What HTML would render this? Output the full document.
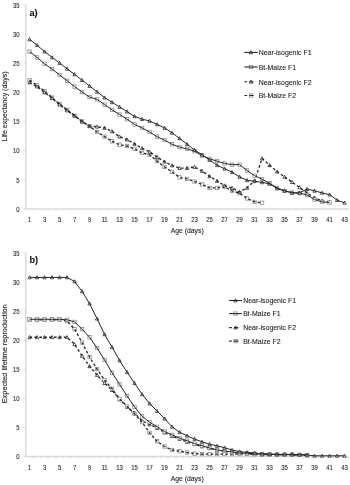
<!DOCTYPE html>
<html><head><meta charset="utf-8"><style>
html,body{margin:0;padding:0;background:#fff;width:350px;height:485px;overflow:hidden}
svg{display:block;will-change:transform}
text{font-family:"Liberation Sans",sans-serif;fill:#2a2a2a;stroke:#2a2a2a;stroke-width:0.1px}
.tk{font-size:6.9px}
.ax{font-size:7.5px;stroke-width:0.14px}
.lg{font-size:7.4px;fill:#1a1a1a}
.tag{font-size:9.2px;font-weight:bold;fill:#111}
</style></head><body>
<svg width="350" height="485" viewBox="0 0 350 485">
<rect width="350" height="485" fill="#fff"/>
<line x1="25.8" y1="5.0" x2="25.8" y2="208.9" stroke="#dadada" stroke-width="1.5"/><line x1="25.8" y1="208.9" x2="348.3" y2="208.9" stroke="#dadada" stroke-width="1.5"/><line x1="23.3" y1="208.90" x2="25.8" y2="208.90" stroke="#dadada" stroke-width="0.9"/><text transform="translate(19.6 211.70) scale(0.86 1)" text-anchor="end" class="tk">0</text><line x1="23.3" y1="179.77" x2="25.8" y2="179.77" stroke="#dadada" stroke-width="0.9"/><text transform="translate(19.6 182.57) scale(0.86 1)" text-anchor="end" class="tk">5</text><line x1="23.3" y1="150.64" x2="25.8" y2="150.64" stroke="#dadada" stroke-width="0.9"/><text transform="translate(19.6 153.44) scale(0.86 1)" text-anchor="end" class="tk">10</text><line x1="23.3" y1="121.51" x2="25.8" y2="121.51" stroke="#dadada" stroke-width="0.9"/><text transform="translate(19.6 124.31) scale(0.86 1)" text-anchor="end" class="tk">15</text><line x1="23.3" y1="92.39" x2="25.8" y2="92.39" stroke="#dadada" stroke-width="0.9"/><text transform="translate(19.6 95.19) scale(0.86 1)" text-anchor="end" class="tk">20</text><line x1="23.3" y1="63.26" x2="25.8" y2="63.26" stroke="#dadada" stroke-width="0.9"/><text transform="translate(19.6 66.06) scale(0.86 1)" text-anchor="end" class="tk">25</text><line x1="23.3" y1="34.13" x2="25.8" y2="34.13" stroke="#dadada" stroke-width="0.9"/><text transform="translate(19.6 36.93) scale(0.86 1)" text-anchor="end" class="tk">30</text><line x1="23.3" y1="5.00" x2="25.8" y2="5.00" stroke="#dadada" stroke-width="0.9"/><text transform="translate(19.6 7.80) scale(0.86 1)" text-anchor="end" class="tk">35</text><line x1="33.30" y1="208.9" x2="33.30" y2="211.1" stroke="#dadada" stroke-width="0.8"/><line x1="40.80" y1="208.9" x2="40.80" y2="211.1" stroke="#dadada" stroke-width="0.8"/><line x1="48.30" y1="208.9" x2="48.30" y2="211.1" stroke="#dadada" stroke-width="0.8"/><line x1="55.80" y1="208.9" x2="55.80" y2="211.1" stroke="#dadada" stroke-width="0.8"/><line x1="63.30" y1="208.9" x2="63.30" y2="211.1" stroke="#dadada" stroke-width="0.8"/><line x1="70.80" y1="208.9" x2="70.80" y2="211.1" stroke="#dadada" stroke-width="0.8"/><line x1="78.30" y1="208.9" x2="78.30" y2="211.1" stroke="#dadada" stroke-width="0.8"/><line x1="85.80" y1="208.9" x2="85.80" y2="211.1" stroke="#dadada" stroke-width="0.8"/><line x1="93.30" y1="208.9" x2="93.30" y2="211.1" stroke="#dadada" stroke-width="0.8"/><line x1="100.80" y1="208.9" x2="100.80" y2="211.1" stroke="#dadada" stroke-width="0.8"/><line x1="108.30" y1="208.9" x2="108.30" y2="211.1" stroke="#dadada" stroke-width="0.8"/><line x1="115.80" y1="208.9" x2="115.80" y2="211.1" stroke="#dadada" stroke-width="0.8"/><line x1="123.30" y1="208.9" x2="123.30" y2="211.1" stroke="#dadada" stroke-width="0.8"/><line x1="130.80" y1="208.9" x2="130.80" y2="211.1" stroke="#dadada" stroke-width="0.8"/><line x1="138.30" y1="208.9" x2="138.30" y2="211.1" stroke="#dadada" stroke-width="0.8"/><line x1="145.80" y1="208.9" x2="145.80" y2="211.1" stroke="#dadada" stroke-width="0.8"/><line x1="153.30" y1="208.9" x2="153.30" y2="211.1" stroke="#dadada" stroke-width="0.8"/><line x1="160.80" y1="208.9" x2="160.80" y2="211.1" stroke="#dadada" stroke-width="0.8"/><line x1="168.30" y1="208.9" x2="168.30" y2="211.1" stroke="#dadada" stroke-width="0.8"/><line x1="175.80" y1="208.9" x2="175.80" y2="211.1" stroke="#dadada" stroke-width="0.8"/><line x1="183.30" y1="208.9" x2="183.30" y2="211.1" stroke="#dadada" stroke-width="0.8"/><line x1="190.80" y1="208.9" x2="190.80" y2="211.1" stroke="#dadada" stroke-width="0.8"/><line x1="198.30" y1="208.9" x2="198.30" y2="211.1" stroke="#dadada" stroke-width="0.8"/><line x1="205.80" y1="208.9" x2="205.80" y2="211.1" stroke="#dadada" stroke-width="0.8"/><line x1="213.30" y1="208.9" x2="213.30" y2="211.1" stroke="#dadada" stroke-width="0.8"/><line x1="220.80" y1="208.9" x2="220.80" y2="211.1" stroke="#dadada" stroke-width="0.8"/><line x1="228.30" y1="208.9" x2="228.30" y2="211.1" stroke="#dadada" stroke-width="0.8"/><line x1="235.80" y1="208.9" x2="235.80" y2="211.1" stroke="#dadada" stroke-width="0.8"/><line x1="243.30" y1="208.9" x2="243.30" y2="211.1" stroke="#dadada" stroke-width="0.8"/><line x1="250.80" y1="208.9" x2="250.80" y2="211.1" stroke="#dadada" stroke-width="0.8"/><line x1="258.30" y1="208.9" x2="258.30" y2="211.1" stroke="#dadada" stroke-width="0.8"/><line x1="265.80" y1="208.9" x2="265.80" y2="211.1" stroke="#dadada" stroke-width="0.8"/><line x1="273.30" y1="208.9" x2="273.30" y2="211.1" stroke="#dadada" stroke-width="0.8"/><line x1="280.80" y1="208.9" x2="280.80" y2="211.1" stroke="#dadada" stroke-width="0.8"/><line x1="288.30" y1="208.9" x2="288.30" y2="211.1" stroke="#dadada" stroke-width="0.8"/><line x1="295.80" y1="208.9" x2="295.80" y2="211.1" stroke="#dadada" stroke-width="0.8"/><line x1="303.30" y1="208.9" x2="303.30" y2="211.1" stroke="#dadada" stroke-width="0.8"/><line x1="310.80" y1="208.9" x2="310.80" y2="211.1" stroke="#dadada" stroke-width="0.8"/><line x1="318.30" y1="208.9" x2="318.30" y2="211.1" stroke="#dadada" stroke-width="0.8"/><line x1="325.80" y1="208.9" x2="325.80" y2="211.1" stroke="#dadada" stroke-width="0.8"/><line x1="333.30" y1="208.9" x2="333.30" y2="211.1" stroke="#dadada" stroke-width="0.8"/><line x1="340.80" y1="208.9" x2="340.80" y2="211.1" stroke="#dadada" stroke-width="0.8"/><line x1="348.30" y1="208.9" x2="348.30" y2="211.1" stroke="#dadada" stroke-width="0.8"/><text transform="translate(29.55 222.30) scale(0.86 1)" text-anchor="middle" class="tk">1</text><text transform="translate(44.55 222.30) scale(0.86 1)" text-anchor="middle" class="tk">3</text><text transform="translate(59.55 222.30) scale(0.86 1)" text-anchor="middle" class="tk">5</text><text transform="translate(74.55 222.30) scale(0.86 1)" text-anchor="middle" class="tk">7</text><text transform="translate(89.55 222.30) scale(0.86 1)" text-anchor="middle" class="tk">9</text><text transform="translate(104.55 222.30) scale(0.86 1)" text-anchor="middle" class="tk">11</text><text transform="translate(119.55 222.30) scale(0.86 1)" text-anchor="middle" class="tk">13</text><text transform="translate(134.55 222.30) scale(0.86 1)" text-anchor="middle" class="tk">15</text><text transform="translate(149.55 222.30) scale(0.86 1)" text-anchor="middle" class="tk">17</text><text transform="translate(164.55 222.30) scale(0.86 1)" text-anchor="middle" class="tk">19</text><text transform="translate(179.55 222.30) scale(0.86 1)" text-anchor="middle" class="tk">21</text><text transform="translate(194.55 222.30) scale(0.86 1)" text-anchor="middle" class="tk">23</text><text transform="translate(209.55 222.30) scale(0.86 1)" text-anchor="middle" class="tk">25</text><text transform="translate(224.55 222.30) scale(0.86 1)" text-anchor="middle" class="tk">27</text><text transform="translate(239.55 222.30) scale(0.86 1)" text-anchor="middle" class="tk">29</text><text transform="translate(254.55 222.30) scale(0.86 1)" text-anchor="middle" class="tk">31</text><text transform="translate(269.55 222.30) scale(0.86 1)" text-anchor="middle" class="tk">33</text><text transform="translate(284.55 222.30) scale(0.86 1)" text-anchor="middle" class="tk">35</text><text transform="translate(299.55 222.30) scale(0.86 1)" text-anchor="middle" class="tk">37</text><text transform="translate(314.55 222.30) scale(0.86 1)" text-anchor="middle" class="tk">39</text><text transform="translate(329.55 222.30) scale(0.86 1)" text-anchor="middle" class="tk">41</text><text transform="translate(344.55 222.30) scale(0.86 1)" text-anchor="middle" class="tk">43</text><text x="187.2" y="233.00" text-anchor="middle" class="ax" textLength="33" lengthAdjust="spacingAndGlyphs">Age (days)</text><text transform="translate(6.7 106.45) rotate(-90)" text-anchor="middle" class="ax" textLength="70" lengthAdjust="spacingAndGlyphs">Life expectancy (days)</text><text x="29.4" y="16.20" class="tag">a)</text><g fill="#fff" stroke="#888" stroke-width="0.75"><rect x="27.85" y="78.45" width="3.40" height="3.40"/><rect x="35.35" y="83.69" width="3.40" height="3.40"/><rect x="42.85" y="89.52" width="3.40" height="3.40"/><rect x="50.35" y="95.93" width="3.40" height="3.40"/><rect x="57.85" y="102.34" width="3.40" height="3.40"/><rect x="65.35" y="108.16" width="3.40" height="3.40"/><rect x="72.85" y="113.99" width="3.40" height="3.40"/><rect x="80.35" y="119.81" width="3.40" height="3.40"/><rect x="87.85" y="124.47" width="3.40" height="3.40"/><rect x="95.35" y="130.30" width="3.40" height="3.40"/><rect x="102.85" y="134.96" width="3.40" height="3.40"/><rect x="110.35" y="139.62" width="3.40" height="3.40"/><rect x="117.85" y="143.12" width="3.40" height="3.40"/><rect x="125.35" y="144.28" width="3.40" height="3.40"/><rect x="132.85" y="147.20" width="3.40" height="3.40"/><rect x="140.35" y="151.27" width="3.40" height="3.40"/><rect x="147.85" y="153.02" width="3.40" height="3.40"/><rect x="155.35" y="159.43" width="3.40" height="3.40"/><rect x="162.85" y="165.25" width="3.40" height="3.40"/><rect x="170.35" y="170.21" width="3.40" height="3.40"/><rect x="177.85" y="175.74" width="3.40" height="3.40"/><rect x="185.35" y="177.20" width="3.40" height="3.40"/><rect x="192.85" y="179.82" width="3.40" height="3.40"/><rect x="200.35" y="182.73" width="3.40" height="3.40"/><rect x="207.85" y="186.23" width="3.40" height="3.40"/><rect x="215.35" y="186.23" width="3.40" height="3.40"/><rect x="222.85" y="185.06" width="3.40" height="3.40"/><rect x="230.35" y="189.14" width="3.40" height="3.40"/><rect x="237.85" y="191.47" width="3.40" height="3.40"/><rect x="245.35" y="196.71" width="3.40" height="3.40"/><rect x="252.85" y="200.21" width="3.40" height="3.40"/><rect x="260.35" y="201.08" width="3.40" height="3.40"/></g><path d="M29.55 80.15 L37.05 85.39 L44.55 91.22 L52.05 97.63 L59.55 104.04 L67.05 109.86 L74.55 115.69 L82.05 121.51 L89.55 126.17 L97.05 132.00 L104.55 136.66 L112.05 141.32 L119.55 144.82 L127.05 145.98 L134.55 148.90 L142.05 152.97 L149.55 154.72 L157.05 161.13 L164.55 166.95 L172.05 171.91 L179.55 177.44 L187.05 178.90 L194.55 181.52 L202.05 184.43 L209.55 187.93 L217.05 187.93 L224.55 186.76 L232.05 190.84 L239.55 193.17 L247.05 198.41 L254.55 201.91 L262.05 202.78" fill="none" stroke="#262626" stroke-dasharray="2.6 2.3" stroke-width="1.35"/><g fill="#fff" stroke="#222" stroke-width="0.75"><path d="M29.55 80.75L31.20 83.88L27.90 83.88Z"/><path d="M37.05 84.83L38.70 87.96L35.40 87.96Z"/><path d="M44.55 90.65L46.20 93.79L42.90 93.79Z"/><path d="M52.05 96.48L53.70 99.61L50.40 99.61Z"/><path d="M59.55 102.89L61.20 106.02L57.90 106.02Z"/><path d="M67.05 108.71L68.70 111.85L65.40 111.85Z"/><path d="M74.55 113.96L76.20 117.09L72.90 117.09Z"/><path d="M82.05 119.78L83.70 122.92L80.40 122.92Z"/><path d="M89.55 124.44L91.20 127.58L87.90 127.58Z"/><path d="M97.05 125.02L98.70 128.16L95.40 128.16Z"/><path d="M104.55 126.19L106.20 129.33L102.90 129.33Z"/><path d="M112.05 129.69L113.70 132.82L110.40 132.82Z"/><path d="M119.55 134.93L121.20 138.06L117.90 138.06Z"/><path d="M127.05 137.84L128.70 140.98L125.40 140.98Z"/><path d="M134.55 142.21L136.20 145.35L132.90 145.35Z"/><path d="M142.05 146.58L143.70 149.72L140.40 149.72Z"/><path d="M149.55 150.08L151.20 153.21L147.90 153.21Z"/><path d="M157.05 155.32L158.70 158.45L155.40 158.45Z"/><path d="M164.55 159.98L166.20 163.11L162.90 163.11Z"/><path d="M172.05 163.77L173.70 166.90L170.40 166.90Z"/><path d="M179.55 166.39L181.20 169.52L177.90 169.52Z"/><path d="M187.05 166.39L188.70 169.52L185.40 169.52Z"/><path d="M194.55 165.22L196.20 168.36L192.90 168.36Z"/><path d="M202.05 169.30L203.70 172.44L200.40 172.44Z"/><path d="M209.55 174.54L211.20 177.68L207.90 177.68Z"/><path d="M217.05 179.20L218.70 182.34L215.40 182.34Z"/><path d="M224.55 183.86L226.20 187.00L222.90 187.00Z"/><path d="M232.05 186.19L233.70 189.33L230.40 189.33Z"/><path d="M239.55 190.27L241.20 193.41L237.90 193.41Z"/><path d="M247.05 186.19L248.70 189.33L245.40 189.33Z"/><path d="M254.55 178.91L256.20 182.05L252.90 182.05Z"/><path d="M262.05 156.78L263.70 159.91L260.40 159.91Z"/><path d="M269.55 163.47L271.20 166.61L267.90 166.61Z"/><path d="M277.05 169.88L278.70 173.02L275.40 173.02Z"/><path d="M284.55 175.13L286.20 178.26L282.90 178.26Z"/><path d="M292.05 180.37L293.70 183.50L290.40 183.50Z"/><path d="M299.55 185.61L301.20 188.75L297.90 188.75Z"/><path d="M307.05 191.44L308.70 194.57L305.40 194.57Z"/><path d="M314.55 196.10L316.20 199.23L312.90 199.23Z"/><path d="M322.05 199.01L323.70 202.15L320.40 202.15Z"/><path d="M329.55 200.18L331.20 203.31L327.90 203.31Z"/></g><path d="M29.55 82.48 L37.05 86.56 L44.55 92.39 L52.05 98.21 L59.55 104.62 L67.05 110.45 L74.55 115.69 L82.05 121.51 L89.55 126.17 L97.05 126.76 L104.55 127.92 L112.05 131.42 L119.55 136.66 L127.05 139.57 L134.55 143.94 L142.05 148.31 L149.55 151.81 L157.05 157.05 L164.55 161.71 L172.05 165.50 L179.55 168.12 L187.05 168.12 L194.55 166.95 L202.05 171.03 L209.55 176.28 L217.05 180.94 L224.55 185.60 L232.05 187.93 L239.55 192.01 L247.05 187.93 L254.55 180.65 L262.05 158.51 L269.55 165.21 L277.05 171.62 L284.55 176.86 L292.05 182.10 L299.55 187.34 L307.05 193.17 L314.55 197.83 L322.05 200.74 L329.55 201.91" fill="none" stroke="#262626" stroke-dasharray="2.6 2.3" stroke-width="1.35"/><g fill="#fff" stroke="#888" stroke-width="0.75"><rect x="27.85" y="49.91" width="3.40" height="3.40"/><rect x="35.35" y="55.73" width="3.40" height="3.40"/><rect x="42.85" y="62.14" width="3.40" height="3.40"/><rect x="50.35" y="67.38" width="3.40" height="3.40"/><rect x="57.85" y="73.21" width="3.40" height="3.40"/><rect x="65.35" y="79.03" width="3.40" height="3.40"/><rect x="72.85" y="84.86" width="3.40" height="3.40"/><rect x="80.35" y="90.39" width="3.40" height="3.40"/><rect x="87.85" y="95.35" width="3.40" height="3.40"/><rect x="95.35" y="97.68" width="3.40" height="3.40"/><rect x="102.85" y="102.92" width="3.40" height="3.40"/><rect x="110.35" y="108.16" width="3.40" height="3.40"/><rect x="117.85" y="112.82" width="3.40" height="3.40"/><rect x="125.35" y="117.48" width="3.40" height="3.40"/><rect x="132.85" y="122.73" width="3.40" height="3.40"/><rect x="140.35" y="126.22" width="3.40" height="3.40"/><rect x="147.85" y="130.30" width="3.40" height="3.40"/><rect x="155.35" y="134.96" width="3.40" height="3.40"/><rect x="162.85" y="138.46" width="3.40" height="3.40"/><rect x="170.35" y="142.53" width="3.40" height="3.40"/><rect x="177.85" y="145.45" width="3.40" height="3.40"/><rect x="185.35" y="147.20" width="3.40" height="3.40"/><rect x="192.85" y="149.53" width="3.40" height="3.40"/><rect x="200.35" y="153.89" width="3.40" height="3.40"/><rect x="207.85" y="157.10" width="3.40" height="3.40"/><rect x="215.35" y="159.43" width="3.40" height="3.40"/><rect x="222.85" y="161.76" width="3.40" height="3.40"/><rect x="230.35" y="162.92" width="3.40" height="3.40"/><rect x="237.85" y="162.92" width="3.40" height="3.40"/><rect x="245.35" y="168.75" width="3.40" height="3.40"/><rect x="252.85" y="173.99" width="3.40" height="3.40"/><rect x="260.35" y="177.49" width="3.40" height="3.40"/><rect x="267.85" y="181.57" width="3.40" height="3.40"/><rect x="275.35" y="186.23" width="3.40" height="3.40"/><rect x="282.85" y="189.14" width="3.40" height="3.40"/><rect x="290.35" y="190.89" width="3.40" height="3.40"/><rect x="297.85" y="191.47" width="3.40" height="3.40"/><rect x="305.35" y="193.22" width="3.40" height="3.40"/><rect x="312.85" y="197.88" width="3.40" height="3.40"/><rect x="320.35" y="200.21" width="3.40" height="3.40"/><rect x="327.85" y="200.79" width="3.40" height="3.40"/></g><path d="M29.55 51.61 L37.05 57.43 L44.55 63.84 L52.05 69.08 L59.55 74.91 L67.05 80.73 L74.55 86.56 L82.05 92.09 L89.55 97.05 L97.05 99.38 L104.55 104.62 L112.05 109.86 L119.55 114.52 L127.05 119.18 L134.55 124.43 L142.05 127.92 L149.55 132.00 L157.05 136.66 L164.55 140.16 L172.05 144.23 L179.55 147.15 L187.05 148.90 L194.55 151.23 L202.05 155.59 L209.55 158.80 L217.05 161.13 L224.55 163.46 L232.05 164.62 L239.55 164.62 L247.05 170.45 L254.55 175.69 L262.05 179.19 L269.55 183.27 L277.05 187.93 L284.55 190.84 L292.05 192.59 L299.55 193.17 L307.05 194.92 L314.55 199.58 L322.05 201.91 L329.55 202.49" fill="none" stroke="#262626" stroke-width="1"/><g fill="#fff" stroke="#222" stroke-width="0.75"><path d="M29.55 37.64L31.20 40.77L27.90 40.77Z"/><path d="M37.05 43.46L38.70 46.60L35.40 46.60Z"/><path d="M44.55 49.87L46.20 53.01L42.90 53.01Z"/><path d="M52.05 55.70L53.70 58.83L50.40 58.83Z"/><path d="M59.55 61.23L61.20 64.37L57.90 64.37Z"/><path d="M67.05 67.06L68.70 70.19L65.40 70.19Z"/><path d="M74.55 72.59L76.20 75.73L72.90 75.73Z"/><path d="M82.05 78.42L83.70 81.55L80.40 81.55Z"/><path d="M89.55 84.24L91.20 87.38L87.90 87.38Z"/><path d="M97.05 90.07L98.70 93.21L95.40 93.21Z"/><path d="M104.55 95.90L106.20 99.03L102.90 99.03Z"/><path d="M112.05 100.56L113.70 103.69L110.40 103.69Z"/><path d="M119.55 105.22L121.20 108.35L117.90 108.35Z"/><path d="M127.05 109.88L128.70 113.01L125.40 113.01Z"/><path d="M134.55 114.54L136.20 117.67L132.90 117.67Z"/><path d="M142.05 117.45L143.70 120.59L140.40 120.59Z"/><path d="M149.55 119.20L151.20 122.33L147.90 122.33Z"/><path d="M157.05 122.69L158.70 125.83L155.40 125.83Z"/><path d="M164.55 126.19L166.20 129.33L162.90 129.33Z"/><path d="M172.05 131.14L173.70 134.28L170.40 134.28Z"/><path d="M179.55 136.68L181.20 139.81L177.90 139.81Z"/><path d="M187.05 142.50L188.70 145.64L185.40 145.64Z"/><path d="M194.55 148.33L196.20 151.46L192.90 151.46Z"/><path d="M202.05 152.99L203.70 156.12L200.40 156.12Z"/><path d="M209.55 158.23L211.20 161.37L207.90 161.37Z"/><path d="M217.05 163.47L218.70 166.61L215.40 166.61Z"/><path d="M224.55 166.97L226.20 170.11L222.90 170.11Z"/><path d="M232.05 170.47L233.70 173.60L230.40 173.60Z"/><path d="M239.55 175.13L241.20 178.26L237.90 178.26Z"/><path d="M247.05 178.62L248.70 181.76L245.40 181.76Z"/><path d="M254.55 179.50L256.20 182.63L252.90 182.63Z"/><path d="M262.05 180.66L263.70 183.80L260.40 183.80Z"/><path d="M269.55 182.12L271.20 185.25L267.90 185.25Z"/><path d="M277.05 186.78L278.70 189.91L275.40 189.91Z"/><path d="M284.55 189.11L286.20 192.24L282.90 192.24Z"/><path d="M292.05 191.15L293.70 194.28L290.40 194.28Z"/><path d="M299.55 191.15L301.20 194.28L297.90 194.28Z"/><path d="M307.05 187.36L308.70 190.50L305.40 190.50Z"/><path d="M314.55 189.11L316.20 192.24L312.90 192.24Z"/><path d="M322.05 191.15L323.70 194.28L320.40 194.28Z"/><path d="M329.55 192.89L331.20 196.03L327.90 196.03Z"/><path d="M337.05 198.43L338.70 201.56L335.40 201.56Z"/><path d="M344.55 201.05L346.20 204.19L342.90 204.19Z"/></g><path d="M29.55 39.37 L37.05 45.20 L44.55 51.61 L52.05 57.43 L59.55 62.97 L67.05 68.79 L74.55 74.33 L82.05 80.15 L89.55 85.98 L97.05 91.80 L104.55 97.63 L112.05 102.29 L119.55 106.95 L127.05 111.61 L134.55 116.27 L142.05 119.18 L149.55 120.93 L157.05 124.43 L164.55 127.92 L172.05 132.87 L179.55 138.41 L187.05 144.23 L194.55 150.06 L202.05 154.72 L209.55 159.96 L217.05 165.21 L224.55 168.70 L232.05 172.20 L239.55 176.86 L247.05 180.35 L254.55 181.23 L262.05 182.39 L269.55 183.85 L277.05 188.51 L284.55 190.84 L292.05 192.88 L299.55 192.88 L307.05 189.09 L314.55 190.84 L322.05 192.88 L329.55 194.63 L337.05 200.16 L344.55 202.78" fill="none" stroke="#262626" stroke-width="1"/><g fill="#fff" stroke="#222" stroke-width="0.75"><path d="M251.00 50.67L252.65 53.80L249.35 53.80Z"/></g><line x1="244.4" y1="52.4" x2="257.6" y2="52.4" stroke="#262626" stroke-width="1.1"/><text x="258.7" y="55.20" class="lg" textLength="52.8" lengthAdjust="spacingAndGlyphs">Near-isogenic F1</text><g fill="#fff" stroke="#888" stroke-width="0.75"><rect x="249.30" y="65.30" width="3.40" height="3.40"/></g><line x1="244.4" y1="67.0" x2="257.6" y2="67.0" stroke="#262626" stroke-width="1.1"/><text x="258.7" y="69.80" class="lg" textLength="37.5" lengthAdjust="spacingAndGlyphs">Bt-Maize F1</text><g fill="#fff" stroke="#222" stroke-width="0.75"><path d="M251.00 80.07L252.65 83.20L249.35 83.20Z"/></g><line x1="244.4" y1="81.8" x2="253.70000000000002" y2="81.8" stroke="#262626" stroke-width="1.1" stroke-dasharray="2.7 2.2 4.3 10"/><text x="258.7" y="84.60" class="lg" textLength="52.8" lengthAdjust="spacingAndGlyphs">Near-isogenic F2</text><g fill="#fff" stroke="#888" stroke-width="0.75"><rect x="249.30" y="93.80" width="3.40" height="3.40"/></g><line x1="244.4" y1="95.5" x2="253.70000000000002" y2="95.5" stroke="#262626" stroke-width="1.1" stroke-dasharray="2.7 2.2 4.3 10"/><text x="258.7" y="98.30" class="lg" textLength="37.5" lengthAdjust="spacingAndGlyphs">Bt-Maize F2</text><line x1="25.8" y1="253.0" x2="25.8" y2="456.4" stroke="#dadada" stroke-width="1.5"/><line x1="25.8" y1="456.4" x2="348.3" y2="456.4" stroke="#dadada" stroke-width="1.5"/><line x1="23.3" y1="456.40" x2="25.8" y2="456.40" stroke="#dadada" stroke-width="0.9"/><text transform="translate(19.6 459.20) scale(0.86 1)" text-anchor="end" class="tk">0</text><line x1="23.3" y1="427.34" x2="25.8" y2="427.34" stroke="#dadada" stroke-width="0.9"/><text transform="translate(19.6 430.14) scale(0.86 1)" text-anchor="end" class="tk">5</text><line x1="23.3" y1="398.29" x2="25.8" y2="398.29" stroke="#dadada" stroke-width="0.9"/><text transform="translate(19.6 401.09) scale(0.86 1)" text-anchor="end" class="tk">10</text><line x1="23.3" y1="369.23" x2="25.8" y2="369.23" stroke="#dadada" stroke-width="0.9"/><text transform="translate(19.6 372.03) scale(0.86 1)" text-anchor="end" class="tk">15</text><line x1="23.3" y1="340.17" x2="25.8" y2="340.17" stroke="#dadada" stroke-width="0.9"/><text transform="translate(19.6 342.97) scale(0.86 1)" text-anchor="end" class="tk">20</text><line x1="23.3" y1="311.11" x2="25.8" y2="311.11" stroke="#dadada" stroke-width="0.9"/><text transform="translate(19.6 313.91) scale(0.86 1)" text-anchor="end" class="tk">25</text><line x1="23.3" y1="282.06" x2="25.8" y2="282.06" stroke="#dadada" stroke-width="0.9"/><text transform="translate(19.6 284.86) scale(0.86 1)" text-anchor="end" class="tk">30</text><line x1="23.3" y1="253.00" x2="25.8" y2="253.00" stroke="#dadada" stroke-width="0.9"/><text transform="translate(19.6 255.80) scale(0.86 1)" text-anchor="end" class="tk">35</text><line x1="33.30" y1="456.4" x2="33.30" y2="458.59999999999997" stroke="#dadada" stroke-width="0.8"/><line x1="40.80" y1="456.4" x2="40.80" y2="458.59999999999997" stroke="#dadada" stroke-width="0.8"/><line x1="48.30" y1="456.4" x2="48.30" y2="458.59999999999997" stroke="#dadada" stroke-width="0.8"/><line x1="55.80" y1="456.4" x2="55.80" y2="458.59999999999997" stroke="#dadada" stroke-width="0.8"/><line x1="63.30" y1="456.4" x2="63.30" y2="458.59999999999997" stroke="#dadada" stroke-width="0.8"/><line x1="70.80" y1="456.4" x2="70.80" y2="458.59999999999997" stroke="#dadada" stroke-width="0.8"/><line x1="78.30" y1="456.4" x2="78.30" y2="458.59999999999997" stroke="#dadada" stroke-width="0.8"/><line x1="85.80" y1="456.4" x2="85.80" y2="458.59999999999997" stroke="#dadada" stroke-width="0.8"/><line x1="93.30" y1="456.4" x2="93.30" y2="458.59999999999997" stroke="#dadada" stroke-width="0.8"/><line x1="100.80" y1="456.4" x2="100.80" y2="458.59999999999997" stroke="#dadada" stroke-width="0.8"/><line x1="108.30" y1="456.4" x2="108.30" y2="458.59999999999997" stroke="#dadada" stroke-width="0.8"/><line x1="115.80" y1="456.4" x2="115.80" y2="458.59999999999997" stroke="#dadada" stroke-width="0.8"/><line x1="123.30" y1="456.4" x2="123.30" y2="458.59999999999997" stroke="#dadada" stroke-width="0.8"/><line x1="130.80" y1="456.4" x2="130.80" y2="458.59999999999997" stroke="#dadada" stroke-width="0.8"/><line x1="138.30" y1="456.4" x2="138.30" y2="458.59999999999997" stroke="#dadada" stroke-width="0.8"/><line x1="145.80" y1="456.4" x2="145.80" y2="458.59999999999997" stroke="#dadada" stroke-width="0.8"/><line x1="153.30" y1="456.4" x2="153.30" y2="458.59999999999997" stroke="#dadada" stroke-width="0.8"/><line x1="160.80" y1="456.4" x2="160.80" y2="458.59999999999997" stroke="#dadada" stroke-width="0.8"/><line x1="168.30" y1="456.4" x2="168.30" y2="458.59999999999997" stroke="#dadada" stroke-width="0.8"/><line x1="175.80" y1="456.4" x2="175.80" y2="458.59999999999997" stroke="#dadada" stroke-width="0.8"/><line x1="183.30" y1="456.4" x2="183.30" y2="458.59999999999997" stroke="#dadada" stroke-width="0.8"/><line x1="190.80" y1="456.4" x2="190.80" y2="458.59999999999997" stroke="#dadada" stroke-width="0.8"/><line x1="198.30" y1="456.4" x2="198.30" y2="458.59999999999997" stroke="#dadada" stroke-width="0.8"/><line x1="205.80" y1="456.4" x2="205.80" y2="458.59999999999997" stroke="#dadada" stroke-width="0.8"/><line x1="213.30" y1="456.4" x2="213.30" y2="458.59999999999997" stroke="#dadada" stroke-width="0.8"/><line x1="220.80" y1="456.4" x2="220.80" y2="458.59999999999997" stroke="#dadada" stroke-width="0.8"/><line x1="228.30" y1="456.4" x2="228.30" y2="458.59999999999997" stroke="#dadada" stroke-width="0.8"/><line x1="235.80" y1="456.4" x2="235.80" y2="458.59999999999997" stroke="#dadada" stroke-width="0.8"/><line x1="243.30" y1="456.4" x2="243.30" y2="458.59999999999997" stroke="#dadada" stroke-width="0.8"/><line x1="250.80" y1="456.4" x2="250.80" y2="458.59999999999997" stroke="#dadada" stroke-width="0.8"/><line x1="258.30" y1="456.4" x2="258.30" y2="458.59999999999997" stroke="#dadada" stroke-width="0.8"/><line x1="265.80" y1="456.4" x2="265.80" y2="458.59999999999997" stroke="#dadada" stroke-width="0.8"/><line x1="273.30" y1="456.4" x2="273.30" y2="458.59999999999997" stroke="#dadada" stroke-width="0.8"/><line x1="280.80" y1="456.4" x2="280.80" y2="458.59999999999997" stroke="#dadada" stroke-width="0.8"/><line x1="288.30" y1="456.4" x2="288.30" y2="458.59999999999997" stroke="#dadada" stroke-width="0.8"/><line x1="295.80" y1="456.4" x2="295.80" y2="458.59999999999997" stroke="#dadada" stroke-width="0.8"/><line x1="303.30" y1="456.4" x2="303.30" y2="458.59999999999997" stroke="#dadada" stroke-width="0.8"/><line x1="310.80" y1="456.4" x2="310.80" y2="458.59999999999997" stroke="#dadada" stroke-width="0.8"/><line x1="318.30" y1="456.4" x2="318.30" y2="458.59999999999997" stroke="#dadada" stroke-width="0.8"/><line x1="325.80" y1="456.4" x2="325.80" y2="458.59999999999997" stroke="#dadada" stroke-width="0.8"/><line x1="333.30" y1="456.4" x2="333.30" y2="458.59999999999997" stroke="#dadada" stroke-width="0.8"/><line x1="340.80" y1="456.4" x2="340.80" y2="458.59999999999997" stroke="#dadada" stroke-width="0.8"/><line x1="348.30" y1="456.4" x2="348.30" y2="458.59999999999997" stroke="#dadada" stroke-width="0.8"/><text transform="translate(29.55 469.80) scale(0.86 1)" text-anchor="middle" class="tk">1</text><text transform="translate(44.55 469.80) scale(0.86 1)" text-anchor="middle" class="tk">3</text><text transform="translate(59.55 469.80) scale(0.86 1)" text-anchor="middle" class="tk">5</text><text transform="translate(74.55 469.80) scale(0.86 1)" text-anchor="middle" class="tk">7</text><text transform="translate(89.55 469.80) scale(0.86 1)" text-anchor="middle" class="tk">9</text><text transform="translate(104.55 469.80) scale(0.86 1)" text-anchor="middle" class="tk">11</text><text transform="translate(119.55 469.80) scale(0.86 1)" text-anchor="middle" class="tk">13</text><text transform="translate(134.55 469.80) scale(0.86 1)" text-anchor="middle" class="tk">15</text><text transform="translate(149.55 469.80) scale(0.86 1)" text-anchor="middle" class="tk">17</text><text transform="translate(164.55 469.80) scale(0.86 1)" text-anchor="middle" class="tk">19</text><text transform="translate(179.55 469.80) scale(0.86 1)" text-anchor="middle" class="tk">21</text><text transform="translate(194.55 469.80) scale(0.86 1)" text-anchor="middle" class="tk">23</text><text transform="translate(209.55 469.80) scale(0.86 1)" text-anchor="middle" class="tk">25</text><text transform="translate(224.55 469.80) scale(0.86 1)" text-anchor="middle" class="tk">27</text><text transform="translate(239.55 469.80) scale(0.86 1)" text-anchor="middle" class="tk">29</text><text transform="translate(254.55 469.80) scale(0.86 1)" text-anchor="middle" class="tk">31</text><text transform="translate(269.55 469.80) scale(0.86 1)" text-anchor="middle" class="tk">33</text><text transform="translate(284.55 469.80) scale(0.86 1)" text-anchor="middle" class="tk">35</text><text transform="translate(299.55 469.80) scale(0.86 1)" text-anchor="middle" class="tk">37</text><text transform="translate(314.55 469.80) scale(0.86 1)" text-anchor="middle" class="tk">39</text><text transform="translate(329.55 469.80) scale(0.86 1)" text-anchor="middle" class="tk">41</text><text transform="translate(344.55 469.80) scale(0.86 1)" text-anchor="middle" class="tk">43</text><text x="187.2" y="480.70" text-anchor="middle" class="ax" textLength="33" lengthAdjust="spacingAndGlyphs">Age (days)</text><text transform="translate(6.7 353.8) rotate(-90)" text-anchor="middle" class="ax" textLength="99" lengthAdjust="spacingAndGlyphs">Expected lifetime reproduction</text><text x="29.4" y="263.40" class="tag">b)</text><g fill="#fff" stroke="#222" stroke-width="0.75"><path d="M29.55 335.53L31.20 338.67L27.90 338.67Z"/><path d="M37.05 335.53L38.70 338.67L35.40 338.67Z"/><path d="M44.55 335.53L46.20 338.67L42.90 338.67Z"/><path d="M52.05 335.53L53.70 338.67L50.40 338.67Z"/><path d="M59.55 335.53L61.20 338.67L57.90 338.67Z"/><path d="M67.05 335.53L68.70 338.67L65.40 338.67Z"/><path d="M74.55 342.51L76.20 345.64L72.90 345.64Z"/><path d="M82.05 354.13L83.70 357.26L80.40 357.26Z"/><path d="M89.55 364.59L91.20 367.73L87.90 367.73Z"/><path d="M97.05 373.31L98.70 376.44L95.40 376.44Z"/><path d="M104.55 381.44L106.20 384.58L102.90 384.58Z"/><path d="M112.05 388.42L113.70 391.55L110.40 391.55Z"/><path d="M119.55 397.72L121.20 400.85L117.90 400.85Z"/><path d="M127.05 405.27L128.70 408.41L125.40 408.41Z"/><path d="M134.55 411.08L136.20 414.22L132.90 414.22Z"/><path d="M142.05 419.22L143.70 422.35L140.40 422.35Z"/><path d="M149.55 422.70L151.20 425.84L147.90 425.84Z"/><path d="M157.05 426.19L158.70 429.33L155.40 429.33Z"/><path d="M164.55 430.84L166.20 433.98L162.90 433.98Z"/><path d="M172.05 434.33L173.70 437.46L170.40 437.46Z"/><path d="M179.55 437.23L181.20 440.37L177.90 440.37Z"/><path d="M187.05 440.14L188.70 443.27L185.40 443.27Z"/><path d="M194.55 442.46L196.20 445.60L192.90 445.60Z"/><path d="M202.05 444.79L203.70 447.92L200.40 447.92Z"/><path d="M209.55 446.53L211.20 449.67L207.90 449.67Z"/><path d="M217.05 448.27L218.70 451.41L215.40 451.41Z"/><path d="M224.55 449.44L226.20 452.57L222.90 452.57Z"/><path d="M232.05 450.60L233.70 453.73L230.40 453.73Z"/><path d="M239.55 451.47L241.20 454.61L237.90 454.61Z"/><path d="M247.05 452.05L248.70 455.19L245.40 455.19Z"/><path d="M254.55 452.34L256.20 455.48L252.90 455.48Z"/><path d="M262.05 452.63L263.70 455.77L260.40 455.77Z"/><path d="M269.55 452.63L271.20 455.77L267.90 455.77Z"/><path d="M277.05 452.92L278.70 456.06L275.40 456.06Z"/><path d="M284.55 452.92L286.20 456.06L282.90 456.06Z"/><path d="M292.05 452.92L293.70 456.06L290.40 456.06Z"/><path d="M299.55 453.21L301.20 456.35L297.90 456.35Z"/><path d="M307.05 453.51L308.70 456.64L305.40 456.64Z"/></g><path d="M29.55 337.27 L37.05 337.27 L44.55 337.27 L52.05 337.27 L59.55 337.27 L67.05 337.27 L74.55 344.24 L82.05 355.86 L89.55 366.32 L97.05 375.04 L104.55 383.18 L112.05 390.15 L119.55 399.45 L127.05 407.00 L134.55 412.81 L142.05 420.95 L149.55 424.44 L157.05 427.92 L164.55 432.57 L172.05 436.06 L179.55 438.97 L187.05 441.87 L194.55 444.20 L202.05 446.52 L209.55 448.26 L217.05 450.01 L224.55 451.17 L232.05 452.33 L239.55 453.20 L247.05 453.78 L254.55 454.08 L262.05 454.37 L269.55 454.37 L277.05 454.66 L284.55 454.66 L292.05 454.66 L299.55 454.95 L307.05 455.24" fill="none" stroke="#262626" stroke-dasharray="2.6 2.3" stroke-width="1.35"/><g fill="#fff" stroke="#888" stroke-width="0.75"><rect x="27.85" y="318.13" width="3.40" height="3.40"/><rect x="35.35" y="318.13" width="3.40" height="3.40"/><rect x="42.85" y="318.13" width="3.40" height="3.40"/><rect x="50.35" y="318.13" width="3.40" height="3.40"/><rect x="57.85" y="318.13" width="3.40" height="3.40"/><rect x="65.35" y="319.29" width="3.40" height="3.40"/><rect x="72.85" y="327.43" width="3.40" height="3.40"/><rect x="80.35" y="340.80" width="3.40" height="3.40"/><rect x="87.85" y="355.32" width="3.40" height="3.40"/><rect x="95.35" y="367.53" width="3.40" height="3.40"/><rect x="102.85" y="378.28" width="3.40" height="3.40"/><rect x="110.35" y="387.00" width="3.40" height="3.40"/><rect x="117.85" y="397.17" width="3.40" height="3.40"/><rect x="125.35" y="404.72" width="3.40" height="3.40"/><rect x="132.85" y="412.28" width="3.40" height="3.40"/><rect x="140.35" y="420.41" width="3.40" height="3.40"/><rect x="147.85" y="431.16" width="3.40" height="3.40"/><rect x="155.35" y="439.59" width="3.40" height="3.40"/><rect x="162.85" y="444.82" width="3.40" height="3.40"/><rect x="170.35" y="448.31" width="3.40" height="3.40"/><rect x="177.85" y="449.47" width="3.40" height="3.40"/><rect x="185.35" y="450.81" width="3.40" height="3.40"/><rect x="192.85" y="451.97" width="3.40" height="3.40"/><rect x="200.35" y="452.38" width="3.40" height="3.40"/><rect x="207.85" y="452.38" width="3.40" height="3.40"/><rect x="215.35" y="452.38" width="3.40" height="3.40"/><rect x="222.85" y="452.38" width="3.40" height="3.40"/><rect x="230.35" y="452.38" width="3.40" height="3.40"/><rect x="237.85" y="452.38" width="3.40" height="3.40"/><rect x="245.35" y="452.38" width="3.40" height="3.40"/><rect x="252.85" y="452.67" width="3.40" height="3.40"/><rect x="260.35" y="452.96" width="3.40" height="3.40"/><rect x="267.85" y="452.96" width="3.40" height="3.40"/><rect x="275.35" y="452.96" width="3.40" height="3.40"/><rect x="282.85" y="452.96" width="3.40" height="3.40"/><rect x="290.35" y="452.96" width="3.40" height="3.40"/><rect x="297.85" y="453.25" width="3.40" height="3.40"/><rect x="305.35" y="453.54" width="3.40" height="3.40"/></g><path d="M29.55 319.83 L37.05 319.83 L44.55 319.83 L52.05 319.83 L59.55 319.83 L67.05 320.99 L74.55 329.13 L82.05 342.50 L89.55 357.02 L97.05 369.23 L104.55 379.98 L112.05 388.70 L119.55 398.87 L127.05 406.42 L134.55 413.98 L142.05 422.11 L149.55 432.86 L157.05 441.29 L164.55 446.52 L172.05 450.01 L179.55 451.17 L187.05 452.51 L194.55 453.67 L202.05 454.08 L209.55 454.08 L217.05 454.08 L224.55 454.08 L232.05 454.08 L239.55 454.08 L247.05 454.08 L254.55 454.37 L262.05 454.66 L269.55 454.66 L277.05 454.66 L284.55 454.66 L292.05 454.66 L299.55 454.95 L307.05 455.24" fill="none" stroke="#262626" stroke-dasharray="2.6 2.3" stroke-width="1.35"/><g fill="#fff" stroke="#888" stroke-width="0.75"><rect x="27.85" y="317.55" width="3.40" height="3.40"/><rect x="35.35" y="317.55" width="3.40" height="3.40"/><rect x="42.85" y="317.55" width="3.40" height="3.40"/><rect x="50.35" y="317.55" width="3.40" height="3.40"/><rect x="57.85" y="317.55" width="3.40" height="3.40"/><rect x="65.35" y="318.13" width="3.40" height="3.40"/><rect x="72.85" y="320.17" width="3.40" height="3.40"/><rect x="80.35" y="327.43" width="3.40" height="3.40"/><rect x="87.85" y="335.57" width="3.40" height="3.40"/><rect x="95.35" y="346.32" width="3.40" height="3.40"/><rect x="102.85" y="358.23" width="3.40" height="3.40"/><rect x="110.35" y="371.02" width="3.40" height="3.40"/><rect x="117.85" y="382.64" width="3.40" height="3.40"/><rect x="125.35" y="394.26" width="3.40" height="3.40"/><rect x="132.85" y="405.30" width="3.40" height="3.40"/><rect x="140.35" y="414.60" width="3.40" height="3.40"/><rect x="147.85" y="420.41" width="3.40" height="3.40"/><rect x="155.35" y="425.06" width="3.40" height="3.40"/><rect x="162.85" y="429.71" width="3.40" height="3.40"/><rect x="170.35" y="433.20" width="3.40" height="3.40"/><rect x="177.85" y="436.39" width="3.40" height="3.40"/><rect x="185.35" y="439.01" width="3.40" height="3.40"/><rect x="192.85" y="441.91" width="3.40" height="3.40"/><rect x="200.35" y="443.95" width="3.40" height="3.40"/><rect x="207.85" y="446.27" width="3.40" height="3.40"/><rect x="215.35" y="448.31" width="3.40" height="3.40"/><rect x="222.85" y="449.30" width="3.40" height="3.40"/><rect x="230.35" y="450.28" width="3.40" height="3.40"/><rect x="237.85" y="451.27" width="3.40" height="3.40"/><rect x="245.35" y="451.79" width="3.40" height="3.40"/><rect x="252.85" y="452.08" width="3.40" height="3.40"/><rect x="260.35" y="452.38" width="3.40" height="3.40"/><rect x="267.85" y="452.67" width="3.40" height="3.40"/><rect x="275.35" y="452.67" width="3.40" height="3.40"/><rect x="282.85" y="452.96" width="3.40" height="3.40"/><rect x="290.35" y="452.96" width="3.40" height="3.40"/><rect x="297.85" y="453.25" width="3.40" height="3.40"/><rect x="305.35" y="453.54" width="3.40" height="3.40"/></g><path d="M29.55 319.25 L37.05 319.25 L44.55 319.25 L52.05 319.25 L59.55 319.25 L67.05 319.83 L74.55 321.87 L82.05 329.13 L89.55 337.27 L97.05 348.02 L104.55 359.93 L112.05 372.72 L119.55 384.34 L127.05 395.96 L134.55 407.00 L142.05 416.30 L149.55 422.11 L157.05 426.76 L164.55 431.41 L172.05 434.90 L179.55 438.09 L187.05 440.71 L194.55 443.61 L202.05 445.65 L209.55 447.97 L217.05 450.01 L224.55 451.00 L232.05 451.98 L239.55 452.97 L247.05 453.49 L254.55 453.78 L262.05 454.08 L269.55 454.37 L277.05 454.37 L284.55 454.66 L292.05 454.66 L299.55 454.95 L307.05 455.24" fill="none" stroke="#262626" stroke-width="1"/><g fill="#fff" stroke="#222" stroke-width="0.75"><path d="M29.55 275.68L31.20 278.81L27.90 278.81Z"/><path d="M37.05 275.68L38.70 278.81L35.40 278.81Z"/><path d="M44.55 275.68L46.20 278.81L42.90 278.81Z"/><path d="M52.05 275.68L53.70 278.81L50.40 278.81Z"/><path d="M59.55 275.68L61.20 278.81L57.90 278.81Z"/><path d="M67.05 275.68L68.70 278.81L65.40 278.81Z"/><path d="M74.55 279.74L76.20 282.88L72.90 282.88Z"/><path d="M82.05 289.62L83.70 292.76L80.40 292.76Z"/><path d="M89.55 301.83L91.20 304.96L87.90 304.96Z"/><path d="M97.05 316.94L98.70 320.07L95.40 320.07Z"/><path d="M104.55 332.63L106.20 335.76L102.90 335.76Z"/><path d="M112.05 345.41L113.70 348.55L110.40 348.55Z"/><path d="M119.55 358.78L121.20 361.91L117.90 361.91Z"/><path d="M127.05 370.40L128.70 373.54L125.40 373.54Z"/><path d="M134.55 381.44L136.20 384.58L132.90 384.58Z"/><path d="M142.05 392.49L143.70 395.62L140.40 395.62Z"/><path d="M149.55 401.78L151.20 404.92L147.90 404.92Z"/><path d="M157.05 409.34L158.70 412.47L155.40 412.47Z"/><path d="M164.55 416.89L166.20 420.03L162.90 420.03Z"/><path d="M172.05 425.03L173.70 428.16L170.40 428.16Z"/><path d="M179.55 430.55L181.20 433.69L177.90 433.69Z"/><path d="M187.05 434.04L188.70 437.17L185.40 437.17Z"/><path d="M194.55 437.23L196.20 440.37L192.90 440.37Z"/><path d="M202.05 440.14L203.70 443.27L200.40 443.27Z"/><path d="M209.55 442.46L211.20 445.60L207.90 445.60Z"/><path d="M217.05 444.21L218.70 447.34L215.40 447.34Z"/><path d="M224.55 445.95L226.20 449.09L222.90 449.09Z"/><path d="M232.05 448.27L233.70 451.41L230.40 451.41Z"/><path d="M239.55 449.84L241.20 452.98L237.90 452.98Z"/><path d="M247.05 450.66L248.70 453.79L245.40 453.79Z"/><path d="M254.55 451.24L256.20 454.37L252.90 454.37Z"/><path d="M262.05 452.05L263.70 455.19L260.40 455.19Z"/><path d="M269.55 452.34L271.20 455.48L267.90 455.48Z"/><path d="M277.05 452.63L278.70 455.77L275.40 455.77Z"/><path d="M284.55 452.63L286.20 455.77L282.90 455.77Z"/><path d="M292.05 452.63L293.70 455.77L290.40 455.77Z"/><path d="M299.55 452.92L301.20 456.06L297.90 456.06Z"/><path d="M307.05 453.21L308.70 456.35L305.40 456.35Z"/><path d="M314.55 454.09L316.20 457.22L312.90 457.22Z"/><path d="M322.05 454.09L323.70 457.22L320.40 457.22Z"/><path d="M329.55 454.09L331.20 457.22L327.90 457.22Z"/><path d="M337.05 454.09L338.70 457.22L335.40 457.22Z"/><path d="M344.55 454.09L346.20 457.22L342.90 457.22Z"/></g><path d="M29.55 277.41 L37.05 277.41 L44.55 277.41 L52.05 277.41 L59.55 277.41 L67.05 277.41 L74.55 281.48 L82.05 291.36 L89.55 303.56 L97.05 318.67 L104.55 334.36 L112.05 347.15 L119.55 360.51 L127.05 372.13 L134.55 383.18 L142.05 394.22 L149.55 403.52 L157.05 411.07 L164.55 418.63 L172.05 426.76 L179.55 432.28 L187.05 435.77 L194.55 438.97 L202.05 441.87 L209.55 444.20 L217.05 445.94 L224.55 447.68 L232.05 450.01 L239.55 451.58 L247.05 452.39 L254.55 452.97 L262.05 453.78 L269.55 454.08 L277.05 454.37 L284.55 454.37 L292.05 454.37 L299.55 454.66 L307.05 454.95 L314.55 455.82 L322.05 455.82 L329.55 455.82 L337.05 455.82 L344.55 455.82" fill="none" stroke="#262626" stroke-width="1"/><g fill="#fff" stroke="#222" stroke-width="0.75"><path d="M235.50 298.77L237.15 301.90L233.85 301.90Z"/></g><line x1="229.1" y1="300.5" x2="241.9" y2="300.5" stroke="#262626" stroke-width="1.1"/><text x="243.2" y="303.30" class="lg" textLength="52.8" lengthAdjust="spacingAndGlyphs">Near-isogenic F1</text><g fill="#fff" stroke="#888" stroke-width="0.75"><rect x="233.80" y="311.90" width="3.40" height="3.40"/></g><line x1="229.1" y1="313.6" x2="241.9" y2="313.6" stroke="#262626" stroke-width="1.1"/><text x="243.2" y="316.40" class="lg" textLength="37.5" lengthAdjust="spacingAndGlyphs">Bt-Maize F1</text><g fill="#fff" stroke="#222" stroke-width="0.75"><path d="M235.50 325.87L237.15 329.00L233.85 329.00Z"/></g><line x1="229.1" y1="327.6" x2="238.4" y2="327.6" stroke="#262626" stroke-width="1.1" stroke-dasharray="2.7 2.2 4.3 10"/><text x="243.2" y="330.40" class="lg" textLength="52.8" lengthAdjust="spacingAndGlyphs">Near-isogenic F2</text><g fill="#fff" stroke="#888" stroke-width="0.75"><rect x="233.80" y="339.40" width="3.40" height="3.40"/></g><line x1="229.1" y1="341.1" x2="238.4" y2="341.1" stroke="#262626" stroke-width="1.1" stroke-dasharray="2.7 2.2 4.3 10"/><text x="243.2" y="343.90" class="lg" textLength="37.5" lengthAdjust="spacingAndGlyphs">Bt-Maize F2</text>
</svg></body></html>
